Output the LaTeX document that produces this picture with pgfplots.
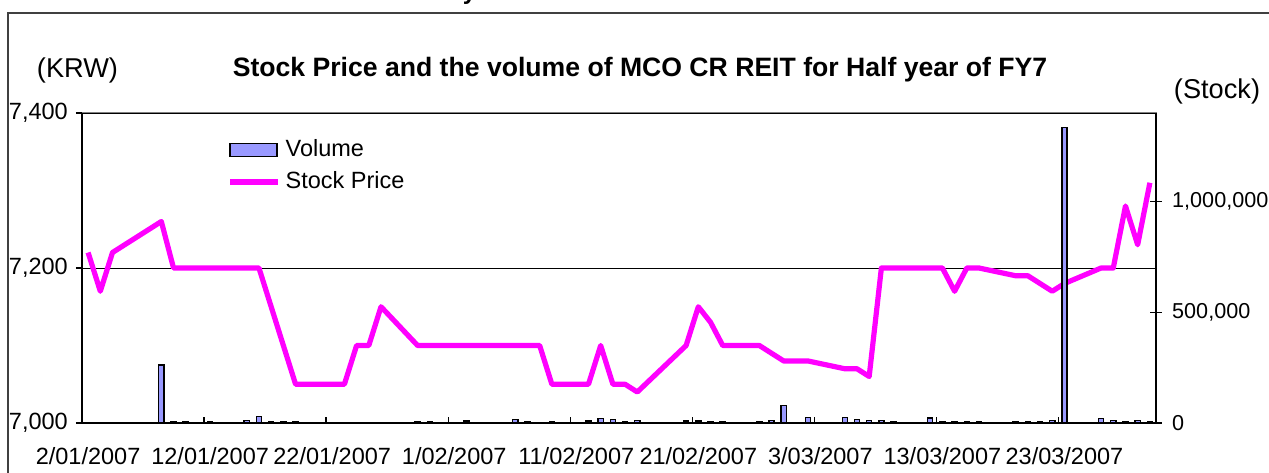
\documentclass[border=0pt]{standalone}
\usepackage{fontspec}
\setmainfont{Liberation Sans}
\usepackage{pgfplots}
\pgfplotsset{compat=1.18}
\definecolor{volfill}{HTML}{9999FF}
\definecolor{pricecol}{HTML}{FF00FF}

\begin{document}
\fontsize{11.75}{14}\selectfont
\begin{tikzpicture}
\useasboundingbox (0,0) rectangle (634.5pt,236pt);
\draw[black!75, line width=0.6pt] (4pt,-5pt) rectangle (645pt,229.5pt);
\node[font=\bfseries\fontsize{12}{14}\selectfont, anchor=base, inner sep=0pt] at (234.75pt,236pt) {y};
\node[font=\bfseries\fontsize{13.3}{15}\selectfont] at (320pt,201pt) {Stock Price and the volume of MCO CR REIT for Half year of FY7};
\node[font=\fontsize{13.6}{15}\selectfont] at (38.75pt,201pt) {(KRW)};
\node[font=\fontsize{13.6}{15}\selectfont] at (608.5pt,190.5pt) {(Stock)};
\draw[gray, line width=0.6pt] (41pt,24.5pt) rectangle (578pt,179.5pt);

\begin{axis}[
  at={(41pt,24.5pt)}, anchor=south west, scale only axis,
  width=537pt, height=155pt,
  xmin=0, xmax=88, ymin=7000, ymax=7400,
  axis x line*=bottom, axis y line*=left,
  axis line style={-, black, line width=0.7pt},
  xtick={0,10,...,80},
  xticklabels={2/01/2007,12/01/2007,22/01/2007,1/02/2007,11/02/2007,21/02/2007,3/03/2007,13/03/2007,23/03/2007},
  xticklabel style={xshift=3.05pt, yshift=-5pt},
  x tick style={yshift=3pt},
  ytick={7000,7200,7400},
  yticklabel style={/pgf/number format/assume math mode=true, /pgf/number format/1000 sep={,}},
  tick align=outside, major tick length=3pt,
  tick style={black, line width=0.6pt},
  ymajorgrids, grid style={black, line width=0.5pt},
  minor tick num=0,
]
\addplot[pricecol, line width=2.6pt, line join=round, mark=none] coordinates {
(0.5,7220) (1.5,7170) (2.5,7220) (3.5,7230) (6.5,7260) (7.5,7200) (8.5,7200) (9.5,7200) (10.5,7200)
(13.5,7200) (14.5,7200) (15.5,7150) (16.5,7100) (17.5,7050) (20.5,7050) (21.5,7050) (22.5,7100)
(23.5,7100) (24.5,7150) (27.5,7100) (28.5,7100) (29.5,7100) (30.5,7100) (31.5,7100) (34.5,7100)
(35.5,7100) (36.5,7100) (37.5,7100) (38.5,7050) (41.5,7050) (42.5,7100) (43.5,7050) (44.5,7050)
(45.5,7040) (49.5,7100) (50.5,7150) (51.5,7130) (52.5,7100) (55.5,7100) (56.5,7090) (57.5,7080)
(59.5,7080) (62.5,7070) (63.5,7070) (64.5,7060) (65.5,7200) (66.5,7200) (69.5,7200) (70.5,7200)
(71.5,7170) (72.5,7200) (73.5,7200) (76.5,7190) (77.5,7190) (78.5,7180) (79.5,7170) (80.5,7180)
(83.5,7200) (84.5,7200) (85.5,7280) (86.5,7230) (87.5,7310)
};
\end{axis}

\begin{axis}[
  at={(41pt,24.5pt)}, anchor=south west, scale only axis,
  width=537pt, height=155pt,
  xmin=0, xmax=88, ymin=0, ymax=1400000,
  axis x line=none, axis y line*=right,
  axis line style={-, black, line width=0.7pt},
  ytick={0,500000,1000000}, scaled y ticks=false,
  yticklabel style={/pgf/number format/assume math mode=true, /pgf/number format/fixed, /pgf/number format/1000 sep={,}, font=\fontsize{10.8}{13}\selectfont, xshift=1pt},
  tick align=center, major tick length=6pt,
  tick style={black, line width=0.6pt},
  ybar, bar width=0.42,
  legend style={draw=none, fill=none, at={(0.1295,0.94)}, anchor=north west,
    legend cell align=left, row sep=2pt,
    nodes={text height=8.5pt, text depth=2.5pt, inner sep=1.5pt, inner xsep=2.5pt}},
]
\addplot[fill=volfill, draw=black, line width=0.7pt,
  legend image code/.code={\draw[fill=volfill, draw=black, line width=0.8pt] (0pt,-3.25pt) rectangle (23.5pt,3.25pt);}]
 coordinates {
(6.5,262000) (7.5,6000) (8.5,6000) (10.5,6000) (13.5,10000) (14.5,30000) (15.5,7000) (16.5,7000)
(17.5,6000) (27.5,6000) (28.5,6000) (31.5,9000) (35.5,15000) (36.5,6000) (38.5,6000) (41.5,9000)
(42.5,19000) (43.5,15000) (44.5,6000) (45.5,10000) (49.5,9000) (50.5,9000) (51.5,6000) (52.5,6000)
(55.5,6000) (56.5,10000) (57.5,80000) (59.5,26000) (62.5,26000) (63.5,15000) (64.5,12000) (65.5,12000)
(66.5,6000) (69.5,23000) (70.5,6000) (71.5,6000) (72.5,6000) (73.5,6000) (76.5,7000) (77.5,7000)
(78.5,7000) (79.5,10000) (80.5,1335000) (83.5,20000) (84.5,12000) (85.5,7000) (86.5,10000) (87.5,6000)
};
\addlegendentry{Volume}
\addlegendimage{legend image code/.code={\draw[pricecol, line width=2.6pt] (0pt,0pt) -- (24pt,0pt);}}
\addlegendentry{Stock Price}
\end{axis}
\end{tikzpicture}
\end{document}
